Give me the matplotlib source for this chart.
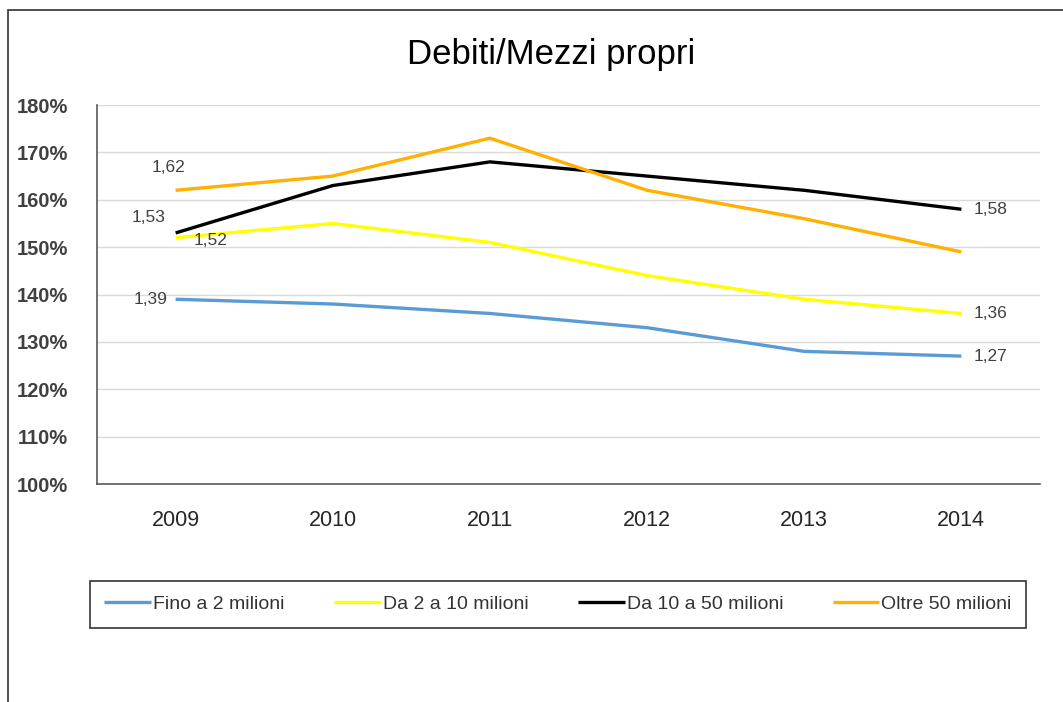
# Line chart: Debiti/Mezzi propri by company size, 2009-2014.

import matplotlib.pyplot as plt
from matplotlib.patches import Rectangle
from matplotlib.ticker import FuncFormatter

plt.rcParams['font.family'] = ['Liberation Sans', 'DejaVu Sans']

# Data (ratio debt / equity)
years = ['2009', '2010', '2011', '2012', '2013', '2014']
fino_2 = [1.39, 1.38, 1.36, 1.33, 1.28, 1.27]
da_2_10 = [1.52, 1.55, 1.51, 1.44, 1.39, 1.36]
da_10_50 = [1.53, 1.63, 1.68, 1.65, 1.62, 1.58]
oltre_50 = [1.62, 1.65, 1.73, 1.62, 1.56, 1.49]

series_names = ['Fino a 2 milioni', 'Da 2 a 10 milioni', 'Da 10 a 50 milioni', 'Oltre 50 milioni']
series_values = [fino_2, da_2_10, da_10_50, oltre_50]
colors = ['#5B9BD5', '#FFFF00', '#000000', '#FFB000']

fig = plt.figure(figsize=(10.63, 7.02), dpi=100)
ax = fig.add_axes([0.0913, 0.3105, 0.887, 0.5399])

x = list(range(len(years)))
lines = []
for name, vals, c in zip(series_names, series_values, colors):
    ln, = ax.plot(x, vals, color=c, linewidth=2.4, label=name, solid_capstyle='butt')
    lines.append(ln)

# Data labels on first and last points
lab_col = '#404040'
lab_fs = 12.5
ax.annotate('1,62', (0, oltre_50[0]), xytext=(-5, 11), textcoords='offset points',
            ha='center', va='bottom', fontsize=lab_fs, color=lab_col)
ax.annotate('1,53', (0, da_10_50[0]), xytext=(-7, 6), textcoords='offset points',
            ha='right', va='bottom', fontsize=lab_fs, color=lab_col)
ax.annotate('1,52', (0, da_2_10[0]), xytext=(13, -2), textcoords='offset points',
            ha='left', va='center', fontsize=lab_fs, color=lab_col)
ax.annotate('1,39', (0, fino_2[0]), xytext=(-6, 0), textcoords='offset points',
            ha='right', va='center', fontsize=lab_fs, color=lab_col)
ax.annotate('1,58', (5, da_10_50[5]), xytext=(9, 0), textcoords='offset points',
            ha='left', va='center', fontsize=lab_fs, color=lab_col)
ax.annotate('1,36', (5, da_2_10[5]), xytext=(9, 0), textcoords='offset points',
            ha='left', va='center', fontsize=lab_fs, color=lab_col)
ax.annotate('1,27', (5, fino_2[5]), xytext=(9, 0), textcoords='offset points',
            ha='left', va='center', fontsize=lab_fs, color=lab_col)

# Axes
ax.set_xlim(-0.5, 5.5)
ax.set_ylim(1.0, 1.8)
ax.set_yticks([1.0 + 0.1 * i for i in range(9)])
ax.yaxis.set_major_formatter(FuncFormatter(lambda v, p: '{:.0f}%'.format(v * 100)))
ax.set_xticks(x)
ax.set_xticklabels(years)
ax.tick_params(axis='y', length=0, pad=21, labelsize=14.5, labelcolor='#404040')
ax.tick_params(axis='x', length=0, pad=19, labelsize=15.5, labelcolor='#262626')
for lbl in ax.get_yticklabels():
    lbl.set_fontweight('bold')

ax.grid(axis='y', color='#D9D9D9', linewidth=1)
ax.set_axisbelow(True)
for s in ['top', 'right']:
    ax.spines[s].set_visible(False)
ax.spines['left'].set_color('#595959')
ax.spines['bottom'].set_color('#595959')
ax.spines['left'].set_linewidth(1.2)
ax.spines['bottom'].set_linewidth(1.2)

# Title
fig.text(0.518, 0.922, 'Debiti/Mezzi propri', ha='center', va='center', fontsize=25, color='#000000')

# Legend
leg = fig.legend(handles=lines, loc='center', bbox_to_anchor=(0.525, 0.139), ncol=4,
                 frameon=True, fancybox=False, fontsize=14, handlelength=2.4,
                 handletextpad=0.1, columnspacing=2.55, borderpad=0.75)
leg.get_frame().set_edgecolor('#000000')
leg.get_frame().set_linewidth(1.2)
for t in leg.get_texts():
    t.set_color('#333333')

# Outer frame
fig.patches.append(Rectangle((8 / 1063, -0.01), 1.1, 0.9858 + 0.01, transform=fig.transFigure,
                             fill=False, edgecolor='#404040', linewidth=1.3))

plt.savefig('out.png', dpi=100)
